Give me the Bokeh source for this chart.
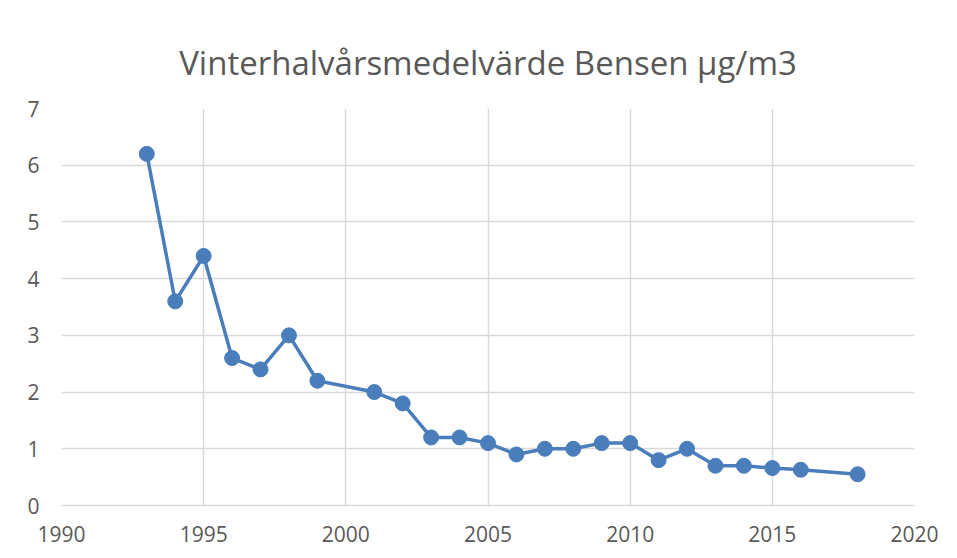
from bokeh.plotting import figure
from bokeh.models import Range1d, FixedTicker
from bokeh.embed import file_html
from bokeh.resources import INLINE

years = [1993, 1994, 1995, 1996, 1997, 1998, 1999, 2001, 2002, 2003, 2004, 2005,
         2006, 2007, 2008, 2009, 2010, 2011, 2012, 2013, 2014, 2015, 2016, 2018]
values = [6.2, 3.6, 4.4, 2.6, 2.4, 3.0, 2.2, 2.0, 1.8, 1.2, 1.2, 1.1,
          0.9, 1.0, 1.0, 1.1, 1.1, 0.8, 1.0, 0.7, 0.7, 0.66, 0.63, 0.55]
x_ticks = [1990, 1995, 2000, 2005, 2010, 2015, 2020]
y_ticks = [0, 1, 2, 3, 4, 5, 6, 7]
title_text = "Vinterhalvårsmedelvärde Bensen µg/m3"

color = "#4a7ebb"
grid = "#d9d9d9"
txt = "#595959"

p = figure(width=945, height=550, output_backend="svg", toolbar_location=None,
           x_range=Range1d(1990, 2020), y_range=Range1d(0, 7),
           min_border_left=61, min_border_right=31, min_border_top=108, min_border_bottom=45,
           title=title_text)
p.title.align = "center"
p.title.text_font = "Open Sans"
p.title.text_font_size = "33px"
p.title.text_font_style = "normal"
p.title.text_color = txt
p.title.offset = 0
p.title.standoff = 48

p.outline_line_color = None
p.background_fill_color = "white"
p.border_fill_color = "white"

p.xaxis.ticker = FixedTicker(ticks=x_ticks)
p.yaxis.ticker = FixedTicker(ticks=y_ticks)
for ax in (p.xaxis[0], p.yaxis[0]):
    ax.major_tick_line_color = None
    ax.minor_tick_line_color = None
    ax.major_label_text_font = "Open Sans"
    ax.major_label_text_font_size = "21px"
    ax.major_label_text_color = txt
p.yaxis.axis_line_color = None
p.xaxis.axis_line_color = grid
p.xaxis.axis_line_width = 1.5
p.xaxis.major_label_standoff = 14
p.yaxis.major_label_standoff = 16

p.xgrid.ticker = FixedTicker(ticks=x_ticks)
p.ygrid.ticker = FixedTicker(ticks=y_ticks)
p.xgrid.grid_line_color = grid
p.ygrid.grid_line_color = grid
p.xgrid.grid_line_width = 1.5
p.ygrid.grid_line_width = 1.5

p.line(years, values, line_color=color, line_width=3.5)
p.scatter(years, values, size=15, fill_color=color, line_color=color)

open("out.html", "w").write(file_html(p, INLINE))
